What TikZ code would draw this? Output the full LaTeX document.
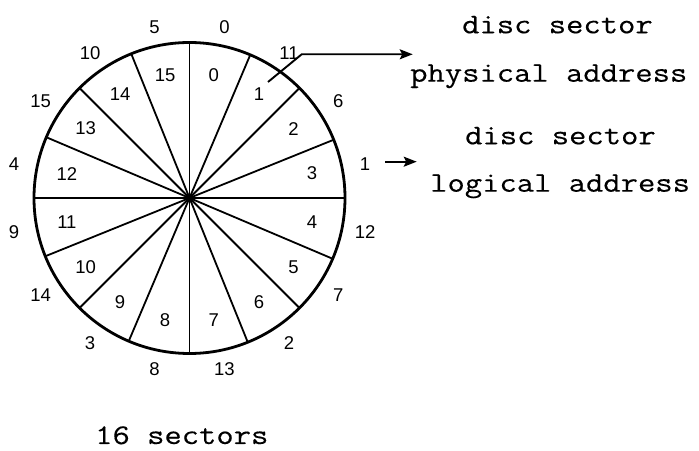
\documentclass[tikz,border=0pt]{standalone}
\usepackage{fontspec}
\usetikzlibrary{arrows.meta}
\newfontfamily\numfont{Liberation Sans}
\newfontfamily\twfont{Latin Modern Mono}[FakeStretch=1.18,FakeBold=0.3]
\tikzset{
  num/.style={inner sep=0pt, font=\numfont\fontsize{18.5}{20}\selectfont},
  tw/.style={inner sep=0pt, anchor=base west, font=\twfont\fontsize{28.5}{32}\selectfont},
  spoke/.style={line width=1.8pt},
  conn/.style={line width=1.9pt, -{Stealth[length=13pt,width=10pt,inset=2.5pt]}},
}
\begin{document}
\begin{tikzpicture}[x=1pt,y=1pt]
\useasboundingbox[fill=white] (0,0) rectangle (699,450);
\node[circle, draw, line width=2.8pt, minimum size=311pt, inner sep=0pt, outer sep=0pt] (disc) at (189.5,252) {};
\foreach \a in {0,22.5,...,337.5} {
  \draw[spoke] (disc.center) -- (disc.\a);
}
\foreach \k in {0,...,15} {
  \pgfmathsetmacro{\ang}{78.75-22.5*\k}
  \pgfmathtruncatemacro{\phys}{mod(11*\k,16)}
  \node[num] (in\k) at ({189.5+125*cos(\ang)},{252+125*sin(\ang)}) {\k};
  \node[num] (out\k) at ({189.5+179*cos(\ang)},{252+174*sin(\ang)}) {\phys};
}
\node[tw] (ds1) at (462,416.7) {disc sector};
\node[tw] (pa) at (410,368.3) {physical address};
\node[tw] (ds2) at (465,305.7) {disc sector};
\node[tw] (la) at (430,258.3) {logical address};
\node[tw] (sec) at (95,6) {16 sectors};
\coordinate (a1s) at (268,368);
\coordinate (a1b) at (301.7,395.7);
\coordinate (a1e) at (412.7,395.7);
\coordinate (a2s) at (385,288.3);
\coordinate (a2e) at (416.7,288.3);
\draw[conn] (a1s) -- (a1b) -- (a1e);
\draw[conn] (a2s) -- (a2e);
\end{tikzpicture}
\end{document}
